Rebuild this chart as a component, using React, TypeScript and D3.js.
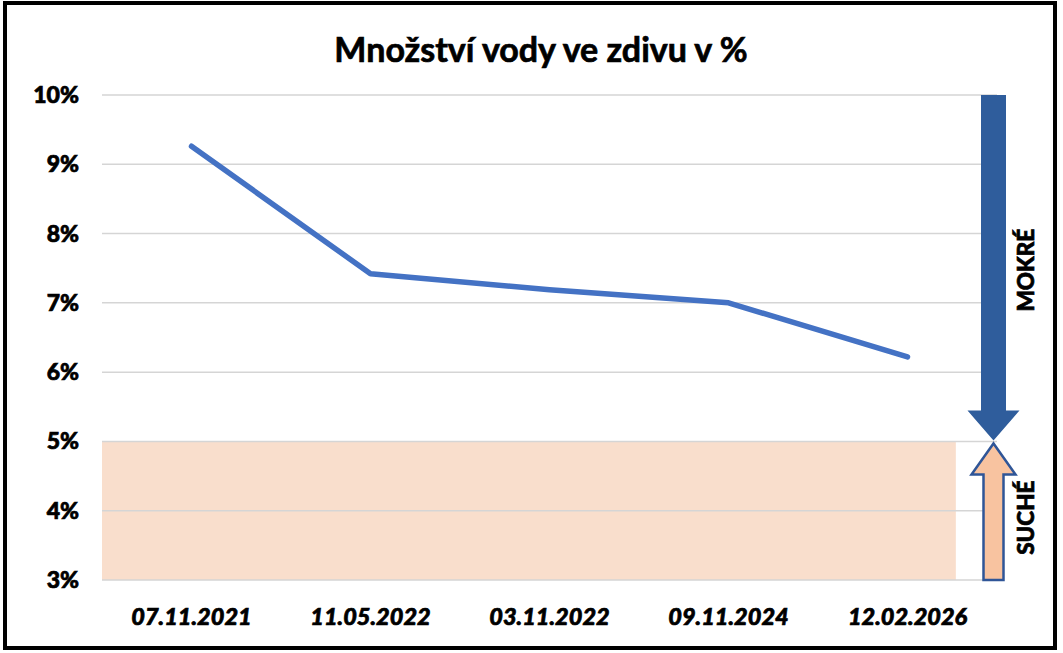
import React from "react";
import * as d3 from "d3";

const categories = ["07.11.2021", "11.05.2022", "03.11.2022", "09.11.2024", "12.02.2026"];
const values = [9.26, 7.42, 7.19, 7.0, 6.22];
const yTicks = [3, 4, 5, 6, 7, 8, 9, 10];
const title = "Množství vody ve zdivu v %";
const dryLimit = 5;
const wetLabel = "MOKRÉ";
const dryLabel = "SUCHÉ";

const W = 1063, H = 653;
const plotLeft = 102, plotRight = 997, plotTop = 95, plotBottom = 580;
const FONT = "Lato, 'Open Sans', sans-serif";
const heavy = { stroke: "#000", strokeWidth: 0.7, paintOrder: "stroke" as const };

export default function App() {
  const x = d3.scalePoint<string>().domain(categories).range([plotLeft, plotRight]).padding(0.5);
  const y = d3.scaleLinear().domain([3, 10]).range([plotBottom, plotTop]);
  const line = d3.line<number>().x((_, i) => x(categories[i])!).y((d) => y(d));
  const step = x.step();
  const peachRight = x(categories[categories.length - 1])! + step * 0.27;

  const ax = 993.5;
  const dTop = y(10), dTip = y(dryLimit) - 1, dHeadBase = dTip - 30;
  const downArrow = `M${ax - 12.5},${dTop} L${ax + 12.5},${dTop} L${ax + 12.5},${dHeadBase} L${ax + 26},${dHeadBase} L${ax},${dTip} L${ax - 26},${dHeadBase} L${ax - 12.5},${dHeadBase} Z`;
  const uTip = y(dryLimit) + 2, uHeadBase = uTip + 31, uBot = y(3);
  const upArrow = `M${ax - 10},${uBot} L${ax + 10},${uBot} L${ax + 10},${uHeadBase} L${ax + 22},${uHeadBase} L${ax},${uTip} L${ax - 22},${uHeadBase} L${ax - 10},${uHeadBase} Z`;

  return (
    <svg width={W} height={H} style={{ position: "absolute", left: 0, top: 0, background: "#fff" }}>
      <rect x={0} y={0} width={W} height={H} fill="#fff" />
      <text x={541} y={62} textAnchor="middle" fontFamily={FONT} fontWeight={700} fontSize={34} fill="#000" {...heavy}>
        {title}
      </text>
      <rect x={plotLeft} y={y(dryLimit)} width={peachRight - plotLeft} height={y(3) - y(dryLimit)} fill="#F9DECC" />
      {yTicks.map((t) => (
        <g key={t}>
          <line x1={plotLeft} x2={plotRight} y1={y(t)} y2={y(t)} stroke="#D5D5D5" strokeWidth={1.5} />
          <text x={79} y={y(t) + 8} textAnchor="end" fontFamily={FONT} fontWeight={900} fontSize={23} fill="#000" {...heavy}>
            {t}%
          </text>
        </g>
      ))}
      {categories.map((c) => (
        <text key={c} x={x(c)} y={625} textAnchor="middle" fontFamily={FONT} fontWeight={900} fontStyle="italic" fontSize={23.5} fill="#000" {...heavy}>
          {c}
        </text>
      ))}
      <path d={line(values)!} fill="none" stroke="#4472C4" strokeWidth={5.5} strokeLinecap="round" strokeLinejoin="round" />
      <path d={downArrow} fill="#2F5D9C" />
      <path d={upArrow} fill="#F8C3A0" stroke="#2F5597" strokeWidth={2.5} />
      <text transform={`translate(1034,${(y(10) + y(dryLimit)) / 2 + 2}) rotate(-90)`} textAnchor="middle" fontFamily={FONT} fontWeight={900} fontSize={22.5} fill="#000" {...heavy}>
        {wetLabel}
      </text>
      <text transform={`translate(1034,${(y(dryLimit) + y(3)) / 2 + 7}) rotate(-90)`} textAnchor="middle" fontFamily={FONT} fontWeight={900} fontSize={22.5} fill="#000" {...heavy}>
        {dryLabel}
      </text>
      <rect x={5} y={3} width={1050} height={645} fill="none" stroke="#000" strokeWidth={4} />
    </svg>
  );
}
